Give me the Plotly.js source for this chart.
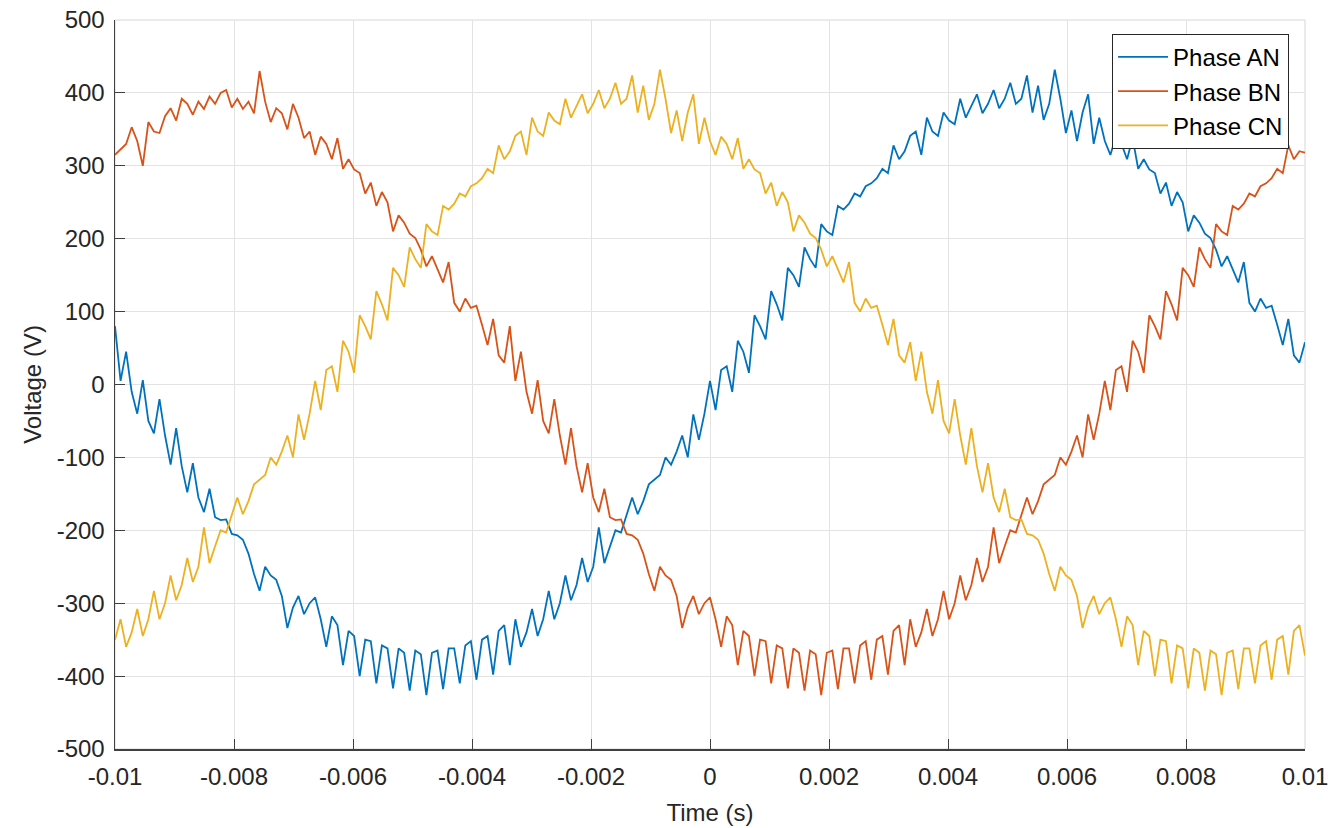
<!DOCTYPE html>
<html>
<head>
<meta charset="utf-8">
<script src="https://cdn.plot.ly/plotly-3.0.1.min.js"></script>
<style>
  html, body { margin: 0; padding: 0; background: #ffffff; }
  #chart { width: 1333px; height: 828px; }
</style>
</head>
<body>
<div id="chart"></div>
<script>
// ---- Data ----
// Samples are evenly spaced in time between tStart and tEnd.
const tStart = -0.01;
const tEnd = 0.01;

const phaseAN = [80,5,45,-10,-40,6,-50,-67,-20,-70,
-110,-60,-112,-148,-108,-155,-175,-143,-182,-186,
-185,-205,-207,-213,-232,-260,-283,-250,-262,-268,
-290,-334,-306,-290,-315,-300,-292,-322,-360,-318,
-330,-385,-338,-345,-400,-350,-352,-410,-358,-362,
-417,-362,-368,-420,-365,-370,-426,-368,-365,-418,
-362,-362,-410,-358,-352,-405,-350,-345,-398,-338,
-330,-385,-322,-360,-340,-308,-345,-322,-283,-322,
-300,-262,-296,-275,-238,-271,-250,-196,-245,-222,
-200,-203,-180,-155,-178,-160,-137,-130,-124,-100,
-110,-92,-70,-100,-41,-76,-40,5,-35,20,
25,-10,60,45,16,95,80,62,128,110,
88,160,150,134,188,172,160,220,210,205,
245,240,248,262,258,272,276,283,296,290,
328,309,320,341,347,315,366,347,341,373,
362,357,392,366,382,398,372,385,404,379,
392,414,385,392,424,373,410,363,385,432,
392,345,376,334,373,398,330,366,334,315,
340,330,309,338,296,309,295,290,262,277,
245,264,250,210,232,222,207,201,185,162,
176,158,140,168,112,100,118,105,108,82,
54,90,40,30,58];

const phaseBN = [315,322,330,353,334,300,360,347,345,368,
379,362,392,385,370,388,378,395,385,400,
404,380,392,378,388,372,430,388,360,379,
372,350,385,366,338,347,
315,340,330,309,338,296,309,295,290,262,
277,245,264,250,210,232,222,207,201,185,
162,176,158,140,168,112,100,118,105,108,
82,54,90,40,30,
80,5,45,-10,-40,6,-50,-67,-20,-70,
-110,-60,-112,-148,-108,-155,-175,-143,-182,-186,
-185,-205,-207,-213,-232,-260,-283,-250,-262,-268,
-290,-334,-306,-290,-315,-300,-292,-322,-360,-318,
-330,-385,-338,-345,-400,-350,-352,-410,-358,-362,
-417,-362,-368,-420,-365,-370,-426,-368,-365,-418,
-362,-362,-410,-358,-352,-405,-350,-345,-398,-338,
-330,-385,-322,-360,-340,-308,-345,-322,-283,-322,
-300,-262,-296,-275,-238,-271,-250,-196,-245,-222,
-200,-203,-180,-155,-178,-160,-137,-130,-124,-100,
-110,-92,-70,-100,-41,-76,-40,5,-35,20,
25,-10,60,45,16,95,80,62,128,110,
88,160,150,134,188,172,160,220,210,205,
245,240,248,262,258,272,276,283,296,290,
328,309,320,318];

const phaseCN = [-350,-322,-360,-340,-308,-345,-322,-283,-322,
-300,-262,-296,-275,-238,-271,-250,-196,-245,-222,
-200,-203,-180,-155,-178,-160,-137,-130,-124,-100,
-110,-92,-70,-100,-41,-76,-40,5,-35,20,
25,-10,60,45,16,95,80,62,128,110,
88,160,150,134,188,172,160,220,210,205,
245,240,248,262,258,272,276,283,296,290,
328,309,320,341,347,315,366,347,341,373,
362,357,392,366,382,398,372,385,404,379,
392,414,385,392,424,373,410,363,385,432,
392,345,376,334,373,398,330,366,334,315,
340,330,309,338,296,309,295,290,262,277,
245,264,250,210,232,222,207,201,185,162,
176,158,140,168,112,100,118,105,108,82,
54,90,40,30,58,
5,45,-10,-40,6,-50,-67,-20,-70,
-110,-60,-112,-148,-108,-155,-175,-143,-182,-186,
-185,-205,-207,-213,-232,-260,-283,-250,-262,-268,
-290,-334,-306,-290,-315,-300,-292,-322,-360,-318,
-330,-385,-338,-345,-400,-350,-352,-410,-358,-362,
-417,-362,-368,-420,-365,-370,-426,-368,-365,-418,
-362,-362,-410,-358,-352,-405,-350,-345,-398,-338,
-330,-372];

const seriesNames = ["Phase AN", "Phase BN", "Phase CN"];
const seriesColors = ["#0072BD", "#D95319", "#EDB120"];

const xTickVals = [-0.01,-0.008,-0.006,-0.004,-0.002,0,0.002,0.004,0.006,0.008,0.01];
const xTickText = ["-0.01","-0.008","-0.006","-0.004","-0.002","0","0.002","0.004","0.006","0.008","0.01"];
const yTickVals = [-500,-400,-300,-200,-100,0,100,200,300,400,500];
const yTickText = ["-500","-400","-300","-200","-100","0","100","200","300","400","500"];

const xTitle = "Time (s)";
const yTitle = "Voltage (V)";

// ---- Build sample times ----
function sampleTimes(n) {
  const out = [];
  for (let i = 0; i < n; i++) out.push(tStart + (tEnd - tStart) * i / (n - 1));
  return out;
}

const allSeries = [phaseAN, phaseBN, phaseCN];
const traces = allSeries.map((vals, k) => ({
  type: "scatter",
  mode: "lines",
  x: sampleTimes(vals.length),
  y: vals,
  name: seriesNames[k],
  line: { color: seriesColors[k], width: 1.8 }
}));

const FONT = "Liberation Sans, Arial, Helvetica, sans-serif";
const TXT = "#262626";

const layout = {
  width: 1333,
  height: 828,
  margin: { l: 115, r: 28, t: 20, b: 79, pad: 0 },
  paper_bgcolor: "#ffffff",
  plot_bgcolor: "#ffffff",
  font: { family: FONT, size: 24, color: TXT },
  showlegend: true,
  legend: {
    x: 0.9866, xanchor: "right",
    y: 0.981, yanchor: "top",
    bgcolor: "#ffffff",
    bordercolor: "#262626",
    borderwidth: 1,
    font: { family: FONT, size: 24, color: "#000000" },
    tracegroupgap: 0,
    itemwidth: 50
  },
  xaxis: {
    range: [tStart, tEnd],
    tickmode: "array",
    tickvals: xTickVals,
    ticktext: xTickText,
    ticks: "inside",
    ticklen: 10,
    tickwidth: 1,
    tickcolor: "#404040",
    showline: true,
    linecolor: "#404040",
    linewidth: 1.5,
    showgrid: true,
    gridcolor: "#e3e3e3",
    gridwidth: 1,
    zeroline: false,
    tickfont: { family: FONT, size: 24, color: TXT },
    ticklabelstandoff: 6,
    title: { text: xTitle, font: { family: FONT, size: 24, color: TXT }, standoff: 15 }
  },
  yaxis: {
    range: [-500, 500],
    tickmode: "array",
    tickvals: yTickVals,
    ticktext: yTickText,
    ticks: "inside",
    ticklen: 10,
    tickwidth: 1,
    tickcolor: "#404040",
    showline: true,
    linecolor: "#404040",
    linewidth: 1.5,
    showgrid: true,
    gridcolor: "#e3e3e3",
    gridwidth: 1,
    zeroline: false,
    tickfont: { family: FONT, size: 24, color: TXT },
    ticklabelstandoff: 4,
    title: { text: yTitle, font: { family: FONT, size: 24, color: TXT }, standoff: 8 }
  },
  shapes: [{
    type: "rect", xref: "paper", yref: "paper",
    x0: 0, x1: 1, y0: 0, y1: 1,
    line: { color: "#d6d6d6", width: 1 },
    layer: "below"
  }]
};

Plotly.newPlot("chart", traces, layout, { staticPlot: true, displayModeBar: false });
</script>
</body>
</html>
